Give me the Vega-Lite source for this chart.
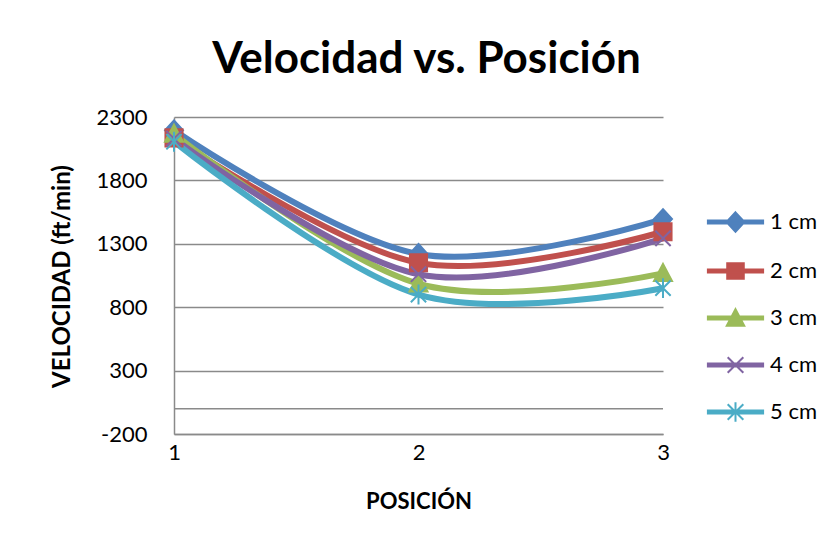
{
  "$schema": "https://vega.github.io/schema/vega-lite/v6.json",
  "width": 489,
  "height": 317,
  "autosize": {"type": "none"},
  "padding": {"left": 174, "top": 117, "right": 173, "bottom": 110},
  "background": "white",
  "config": {"view": {"stroke": null}, "font": "Lato"},
  "title": {
    "text": "Velocidad vs. Posición",
    "font": "Lato",
    "fontSize": 44,
    "fontWeight": "bold",
    "color": "black",
    "anchor": "middle",
    "baseline": "alphabetic",
    "offset": -11,
    "dx": 8
  },
  "datasets": {
    "vel": [
      {"serie": "1 cm", "pos": 1, "vel": 2195},
      {"serie": "1 cm", "pos": 2, "vel": 1220},
      {"serie": "1 cm", "pos": 3, "vel": 1495},
      {"serie": "2 cm", "pos": 1, "vel": 2135},
      {"serie": "2 cm", "pos": 2, "vel": 1150},
      {"serie": "2 cm", "pos": 3, "vel": 1395},
      {"serie": "3 cm", "pos": 1, "vel": 2165},
      {"serie": "3 cm", "pos": 2, "vel": 985},
      {"serie": "3 cm", "pos": 3, "vel": 1067},
      {"serie": "4 cm", "pos": 1, "vel": 2130},
      {"serie": "4 cm", "pos": 2, "vel": 1060},
      {"serie": "4 cm", "pos": 3, "vel": 1343},
      {"serie": "5 cm", "pos": 1, "vel": 2105},
      {"serie": "5 cm", "pos": 2, "vel": 900},
      {"serie": "5 cm", "pos": 3, "vel": 950}
    ],
    "cero": [{"v": 0}]
  },
  "layer": [
    {
      "data": {"name": "cero"},
      "mark": {"type": "rule", "color": "#8a8a8a", "strokeWidth": 1.5},
      "encoding": {
        "y": {"field": "v", "type": "quantitative"}
      }
    },
    {
      "data": {"name": "vel"},
      "mark": {"type": "line", "interpolate": "cardinal", "strokeWidth": 6},
      "encoding": {
        "x": {
          "field": "pos",
          "type": "ordinal",
          "scale": {"type": "point", "padding": 0},
          "axis": {
            "title": "POSICIÓN",
            "labelAngle": 0,
            "grid": false,
            "ticks": false,
            "tickSize": 0,
            "labelOverlap": false,
            "labelFont": "Lato",
            "labelFontSize": 22,
            "labelColor": "black",
            "labelBaseline": "alphabetic",
            "labelPadding": 25,
            "domainColor": "#8a8a8a",
            "domainWidth": 1.5,
            "titleFont": "Lato",
            "titleFontSize": 22,
            "titleFontWeight": "bold",
            "titleColor": "black",
            "titleBaseline": "alphabetic",
            "titleY": 74
          }
        },
        "y": {
          "field": "vel",
          "type": "quantitative",
          "scale": {"domain": [-200, 2300], "nice": false, "zero": false},
          "axis": {
            "values": [-200, 300, 800, 1300, 1800, 2300],
            "format": "d",
            "labelExpr": "datum.value < 0 ? '-' + abs(datum.value) : datum.label",
            "title": "VELOCIDAD (ft/min)",
            "grid": true,
            "gridColor": "#8a8a8a",
            "gridWidth": 1.5,
            "ticks": false,
            "tickSize": 0,
            "labelOverlap": false,
            "labelFont": "Lato",
            "labelFontSize": 22,
            "labelColor": "black",
            "labelPadding": 27,
            "domainColor": "#8a8a8a",
            "domainWidth": 1.5,
            "titleFont": "Lato",
            "titleFontSize": 24,
            "titleFontWeight": "bold",
            "titleColor": "black",
            "titleAngle": -90,
            "titleAlign": "center",
            "titleBaseline": "alphabetic",
            "titleX": -105,
            "titleY": 159
          }
        },
        "color": {
          "field": "serie",
          "type": "nominal",
          "scale": {
            "domain": ["1 cm", "2 cm", "3 cm", "4 cm", "5 cm"],
            "range": ["#4F81BD", "#C0504D", "#9BBB59", "#8064A2", "#4BACC6"]
          },
          "legend": {
            "orient": "none",
            "legendX": 537.5,
            "legendY": 81,
            "title": null,
            "padding": 0,
            "rowPadding": 11,
            "symbolSize": 2116,
            "symbolStrokeWidth": 2,
            "labelFont": "Lato",
            "labelFontSize": 22,
            "labelColor": "black",
            "labelOffset": 10.5,
            "encode": {
              "symbols": {
                "update": {
                  "shape": {"signal": "datum.value === '1 cm' ? 'M-1.2,-0.06H1.2V0.06H-1.2Z M0,-0.42L0.39,0L0,0.42L-0.39,0Z' : datum.value === '2 cm' ? 'M-1.2,-0.06H1.2V0.06H-1.2Z M-0.36,-0.34H0.36V0.34H-0.36Z' : datum.value === '3 cm' ? 'M-1.2,-0.06H1.2V0.06H-1.2Z M0,-0.38L0.38,0.34H-0.38Z' : datum.value === '4 cm' ? 'M-1.2,-0.06H1.2V0.06H-1.2Z M-0.34,-0.34L0.34,0.34M-0.34,0.34L0.34,-0.34' : 'M-1.2,-0.06H1.2V0.06H-1.2Z M-0.34,-0.34L0.34,0.34M-0.34,0.34L0.34,-0.34M0,-0.42V0.42'"},
                  "fill": {"scale": "color", "field": "value"},
                  "stroke": {"scale": "color", "field": "value"},
                  "strokeWidth": {"value": 2},
                  "opacity": {"value": 1},
                  "fillOpacity": {"value": 1},
                  "strokeOpacity": {"value": 1}
                }
              }
            }
          }
        }
      }
    },
    {
      "data": {"name": "vel"},
      "transform": [{"filter": "datum.serie === '1 cm'"}],
      "mark": {"type": "point", "filled": true, "size": 324, "strokeWidth": 2, "opacity": 1, "shape": "M0,-1.1L1,0L0,1.1L-1,0Z", "fill": "#4F81BD", "stroke": "#4F81BD"},
      "encoding": {
        "x": {"field": "pos", "type": "ordinal"},
        "y": {"field": "vel", "type": "quantitative"}
      }
    },
    {
      "data": {"name": "vel"},
      "transform": [{"filter": "datum.serie === '2 cm'"}],
      "mark": {"type": "point", "filled": true, "size": 324, "strokeWidth": 2, "opacity": 1, "shape": "M-0.95,-0.95H0.95V0.95H-0.95Z", "fill": "#C0504D", "stroke": "#C0504D"},
      "encoding": {
        "x": {"field": "pos", "type": "ordinal"},
        "y": {"field": "vel", "type": "quantitative"}
      }
    },
    {
      "data": {"name": "vel"},
      "transform": [{"filter": "datum.serie === '3 cm'"}],
      "mark": {"type": "point", "filled": true, "size": 324, "strokeWidth": 2, "opacity": 1, "shape": "M0,-1.05L1,0.85H-1Z", "fill": "#9BBB59", "stroke": "#9BBB59"},
      "encoding": {
        "x": {"field": "pos", "type": "ordinal"},
        "y": {"field": "vel", "type": "quantitative"}
      }
    },
    {
      "data": {"name": "vel"},
      "transform": [{"filter": "datum.serie === '4 cm'"}],
      "mark": {"type": "point", "filled": true, "size": 324, "strokeWidth": 2, "opacity": 1, "shape": "M-0.85,-0.85L0.85,0.85M-0.85,0.85L0.85,-0.85", "fill": "#8064A2", "stroke": "#8064A2"},
      "encoding": {
        "x": {"field": "pos", "type": "ordinal"},
        "y": {"field": "vel", "type": "quantitative"}
      }
    },
    {
      "data": {"name": "vel"},
      "transform": [{"filter": "datum.serie === '5 cm'"}],
      "mark": {"type": "point", "filled": true, "size": 324, "strokeWidth": 2, "opacity": 1, "shape": "M-0.85,-0.85L0.85,0.85M-0.85,0.85L0.85,-0.85M0,-1.1V1.1", "fill": "#4BACC6", "stroke": "#4BACC6"},
      "encoding": {
        "x": {"field": "pos", "type": "ordinal"},
        "y": {"field": "vel", "type": "quantitative"}
      }
    }
  ]
}
